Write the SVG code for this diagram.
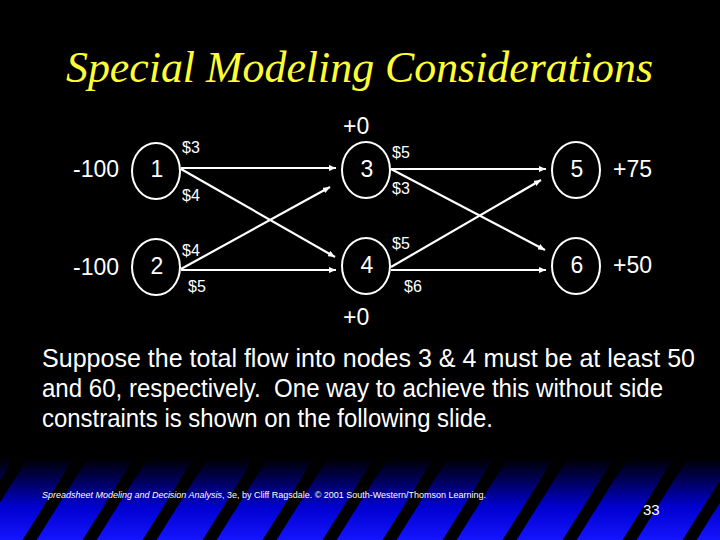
<svg xmlns="http://www.w3.org/2000/svg" width="720" height="540" viewBox="0 0 720 540">
<style>
.lbl{font-family:"Liberation Sans",Arial,sans-serif;font-size:23px;fill:#fff}
.num{font-family:"Liberation Sans",Arial,sans-serif;font-size:23px;fill:#fff;text-anchor:middle}
.cost{font-family:"Liberation Sans",Arial,sans-serif;font-size:16px;fill:#fff}
.node ellipse{fill:#000;stroke:#fff;stroke-width:2}
.edge line{stroke:#fff;stroke-width:2.2;marker-end:url(#ah)}
.body{font-family:"Liberation Sans",Arial,sans-serif;font-size:25px;fill:#fff}
</style>
<defs>
<marker id="ah" markerUnits="userSpaceOnUse" markerWidth="7" markerHeight="6" refX="7" refY="3" orient="auto">
<path d="M0,0 L7,3 L0,6 z" fill="#fff"/>
</marker>
<linearGradient id="band" x1="0" y1="458" x2="0" y2="540" gradientUnits="userSpaceOnUse">
<stop offset="0" stop-color="#000000"/>
<stop offset="0.25" stop-color="#000050"/>
<stop offset="0.6" stop-color="#0000d0"/>
<stop offset="1" stop-color="#1414ff"/>
</linearGradient>
<pattern id="stripes" patternUnits="userSpaceOnUse" width="60" height="20" patternTransform="skewX(-32)">
<rect x="0" y="0" width="14" height="20" fill="#000"/>
</pattern>
</defs>
<rect width="720" height="540" fill="#000"/>
<rect x="0" y="458" width="720" height="82" fill="url(#band)"/>
<rect x="0" y="458" width="720" height="82" fill="url(#stripes)"/>
<text x="66" y="82" font-family="'Liberation Serif','Times New Roman',serif" font-style="italic" font-size="45" fill="#ffff33" textLength="587" lengthAdjust="spacingAndGlyphs">Special Modeling Considerations</text>
<g id="connectors" class="edge">
<line x1="181" y1="168" x2="336" y2="168"/>
<line x1="181" y1="169" x2="335" y2="257"/>
<line x1="181" y1="269" x2="330" y2="187"/>
<line x1="181" y1="270" x2="336" y2="270"/>
<line x1="391" y1="169" x2="546" y2="169"/>
<line x1="391" y1="169" x2="545" y2="250"/>
<line x1="391" y1="267" x2="541" y2="180"/>
<line x1="391" y1="270" x2="546" y2="270"/>
</g>
<g id="node1" class="node"><ellipse cx="156" cy="171" rx="24" ry="28"/><text class="num" x="157" y="177">1</text></g>
<g id="node2" class="node"><ellipse cx="156" cy="267" rx="24" ry="28"/><text class="num" x="157" y="274">2</text></g>
<g id="node3" class="node"><ellipse cx="366" cy="170" rx="24" ry="28"/><text class="num" x="367" y="177">3</text></g>
<g id="node4" class="node"><ellipse cx="366" cy="266" rx="24" ry="28"/><text class="num" x="367" y="273">4</text></g>
<g id="node5" class="node"><ellipse cx="576" cy="170" rx="24" ry="28"/><text class="num" x="577" y="177">5</text></g>
<g id="node6" class="node"><ellipse cx="576" cy="266" rx="24" ry="28"/><text class="num" x="577" y="273">6</text></g>
<g id="labels">
<text class="lbl" x="73" y="177">-100</text>
<text class="lbl" x="73" y="275">-100</text>
<text class="lbl" x="343" y="134">+0</text>
<text class="lbl" x="343" y="325">+0</text>
<text class="lbl" x="613" y="177">+75</text>
<text class="lbl" x="613" y="273">+50</text>
<text class="cost" x="182" y="153">$3</text>
<text class="cost" x="182" y="201">$4</text>
<text class="cost" x="182" y="256">$4</text>
<text class="cost" x="188" y="292">$5</text>
<text class="cost" x="392" y="158">$5</text>
<text class="cost" x="392" y="194">$3</text>
<text class="cost" x="392" y="249">$5</text>
<text class="cost" x="404" y="292">$6</text>
</g>
<text class="body" x="42" y="367" textLength="653" lengthAdjust="spacingAndGlyphs">Suppose the total flow into nodes 3 &amp; 4 must be at least 50</text>
<text class="body" x="42" y="397" textLength="621" lengthAdjust="spacingAndGlyphs">and 60, respectively.&#160; One way to achieve this without side</text>
<text class="body" x="42" y="427" textLength="451" lengthAdjust="spacingAndGlyphs">constraints is shown on the following slide.</text>
<text x="42" y="498" font-family="'Liberation Sans',Arial,sans-serif" font-size="9" fill="#fff" textLength="444" lengthAdjust="spacingAndGlyphs"><tspan font-style="italic">Spreadsheet Modeling and Decision Analysis</tspan>, 3e, by Cliff Ragsdale. © 2001 South-Western/Thomson Learning.</text>
<text x="643" y="515" font-family="'Liberation Sans',Arial,sans-serif" font-size="15" fill="#fff">33</text>
</svg>
